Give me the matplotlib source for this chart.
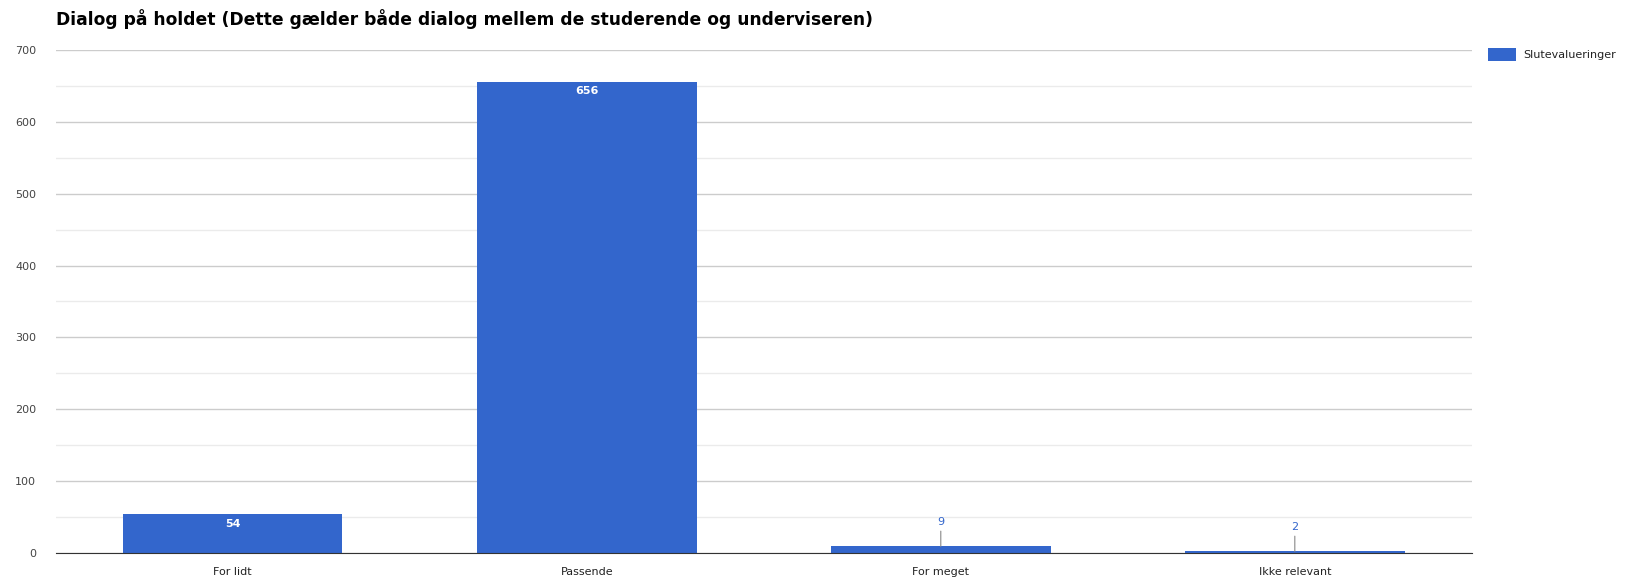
import matplotlib.pyplot as plt
import numpy as np

# Data
categories = ['For lidt', 'Passende', 'For meget', 'Ikke relevant']
values = [54, 656, 9, 2]
series_name = 'Slutevalueringer'
title = 'Dialog på holdet (Dette gælder både dialog mellem de studerende og underviseren)'

bar_color = '#3366cc'

fig = plt.figure(figsize=(16.39, 5.82), dpi=100)
ax = fig.add_axes([0.034, 0.050, 0.864, 0.864])

x = np.arange(len(categories))
bars = ax.bar(x, values, width=0.62, color=bar_color, label=series_name, zorder=3)

ax.set_xlim(-0.5, len(categories) - 0.5)
ax.set_ylim(0, 700)

# gridlines: major every 100, minor every 50
ax.set_yticks(np.arange(0, 701, 100))
ax.set_yticks(np.arange(50, 700, 100), minor=True)
ax.grid(axis='y', which='major', color='#cccccc', linewidth=1, zorder=0)
ax.grid(axis='y', which='minor', color='#ebebeb', linewidth=1, zorder=0)
ax.tick_params(axis='y', which='both', length=0, labelsize=8, labelcolor='#444444', pad=14)
ax.tick_params(axis='x', length=0, labelsize=8, labelcolor='#222222', pad=10)
ax.set_xticks(x)
ax.set_xticklabels(categories)

for s in ['top', 'right', 'left']:
    ax.spines[s].set_visible(False)
ax.spines['bottom'].set_color('#333333')
ax.spines['bottom'].set_zorder(4)

# value labels
for xi, v in zip(x, values):
    if v > 30:
        ax.annotate(str(v), (xi, v), xytext=(0, -7), textcoords='offset points',
                    ha='center', va='center', color='white', fontsize=8, fontweight='bold')
    else:
        ax.annotate(str(v), (xi, v), xytext=(0, 14), textcoords='offset points',
                    ha='center', va='bottom', color=bar_color, fontsize=8,
                    arrowprops=dict(arrowstyle='-', color='#888888', lw=0.8,
                                    shrinkA=1, shrinkB=0))

fig.text(0.034, 0.968, title, fontsize=12.3, fontweight='bold', color='#000000',
         ha='left', va='center')

ax.legend(loc='upper left', bbox_to_anchor=(1.008, 1.012), frameon=False, fontsize=8,
          handlelength=2.6, handleheight=1.3, handletextpad=0.6, borderaxespad=0,
          labelcolor='#222222')

fig.savefig('out.png', dpi=100)
